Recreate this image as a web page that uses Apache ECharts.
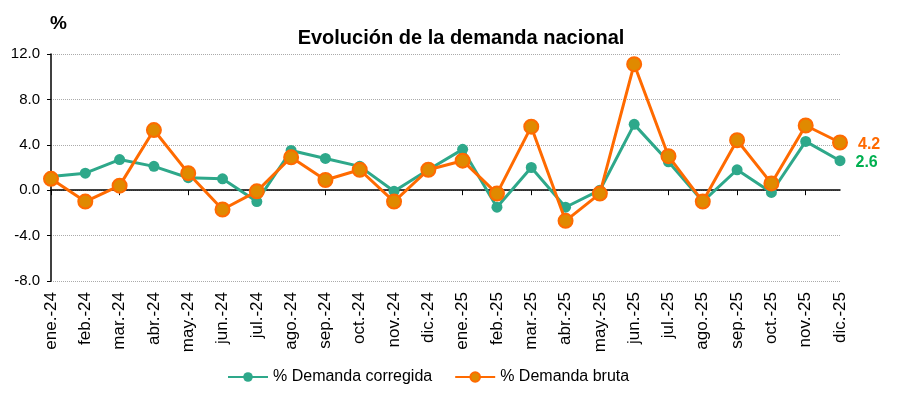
<!DOCTYPE html>
<html>
<head>
<meta charset="utf-8">
<script src="https://cdn.jsdelivr.net/npm/echarts@6/dist/echarts.min.js"></script>
<style>
html,body{margin:0;padding:0;background:#fff;}
#chart{width:906px;height:396px;}
</style>
</head>
<body>
<div id="chart"></div>
<script>
const categories = ["ene.-24","feb.-24","mar.-24","abr.-24","may.-24","jun.-24","jul.-24","ago.-24","sep.-24","oct.-24","nov.-24","dic.-24",
  "ene.-25","feb.-25","mar.-25","abr.-25","may.-25","jun.-25","jul.-25","ago.-25","sep.-25","oct.-25","nov.-25","dic.-25"];
const corregida = [1.2,1.5,2.7,2.1,1.1,1.0,-1.0,3.5,2.8,2.1,-0.1,1.8,3.6,-1.5,2.0,-1.5,0.0,5.8,2.5,-1.0,1.8,-0.2,4.3,2.6];
const bruta = [1.0,-1.0,0.4,5.3,1.5,-1.7,-0.1,2.9,0.9,1.8,-1.0,1.8,2.6,-0.3,5.6,-2.7,-0.3,11.1,3.0,-1.0,4.4,0.6,5.7,4.2];
const yTicks = {min:-8, max:12, interval:4};
const titleText = "Evolución de la demanda nacional";
const seriesNames = ["% Demanda corregida","% Demanda bruta"];

const font = "Arial, 'Liberation Sans', sans-serif";
const green = "#2EA88A";
const orange = "#FF6A00";

function lastLabel(color, offsetY){
  return {
    show:true, position:'right', distance:10,
    formatter:(p)=> p.dataIndex===categories.length-1 ? p.value.toFixed(1) : '',
    color:color, fontFamily:font, fontWeight:'bold', fontSize:16, offset:[0,offsetY]
  };
}

const chart = echarts.init(document.getElementById('chart'));
chart.setOption({
  animation:false,
  title:{
    text:titleText, left:456, textAlign:'center', top:23,
    textStyle:{fontFamily:font, fontWeight:'bold', fontSize:20, color:'#000'}
  },
  graphic:[{type:'text', left:50, top:14, style:{text:'%', font:"bold 19px Arial, 'Liberation Sans', sans-serif", fill:'#000'}}],
  legend:{
    bottom:6, left:222, itemWidth:40, itemHeight:12, itemGap:22,
    textStyle:{fontFamily:font, fontSize:16, color:'#000'},
    data:seriesNames
  },
  grid:{left:51, right:66, top:54, bottom:115},
  xAxis:[{
    type:'category', data:categories, boundaryGap:false,
    axisLine:{onZero:true, lineStyle:{color:'#000', width:1.5}},
    axisTick:{show:true, length:5, lineStyle:{color:'#000'}},
    axisLabel:{show:false}, splitLine:{show:false}
  },{
    type:'category', data:categories, boundaryGap:false, position:'bottom',
    axisLine:{show:false, onZero:false}, axisTick:{show:false},
    axisLabel:{show:true, rotate:90, interval:0, margin:11, fontFamily:font, fontSize:17, color:'#000'},
    splitLine:{show:false}
  }],
  yAxis:{
    type:'value', min:yTicks.min, max:yTicks.max, interval:yTicks.interval,
    axisLine:{show:true, lineStyle:{color:'#000', width:1.5}},
    axisTick:{show:true, length:4, lineStyle:{color:'#000'}},
    axisLabel:{formatter:(v)=>v.toFixed(1), fontFamily:font, fontSize:15, color:'#000', margin:11},
    splitLine:{show:true, lineStyle:{color:'#aaa', type:'dotted', width:1}}
  },
  series:[{
    name:seriesNames[0], type:'line', data:corregida, xAxisIndex:0,
    symbol:'circle', symbolSize:11, z:2,
    lineStyle:{color:green, width:3},
    itemStyle:{color:green, borderColor:green, borderWidth:0},
    label:lastLabel('#00B050', 2)
  },{
    name:seriesNames[1], type:'line', data:bruta, xAxisIndex:0,
    symbol:'circle', symbolSize:14, z:3,
    lineStyle:{color:orange, width:3},
    itemStyle:{color:'#E08A00', borderColor:orange, borderWidth:2},
    label:lastLabel(orange, 2)
  }]
});
</script>
</body>
</html>
